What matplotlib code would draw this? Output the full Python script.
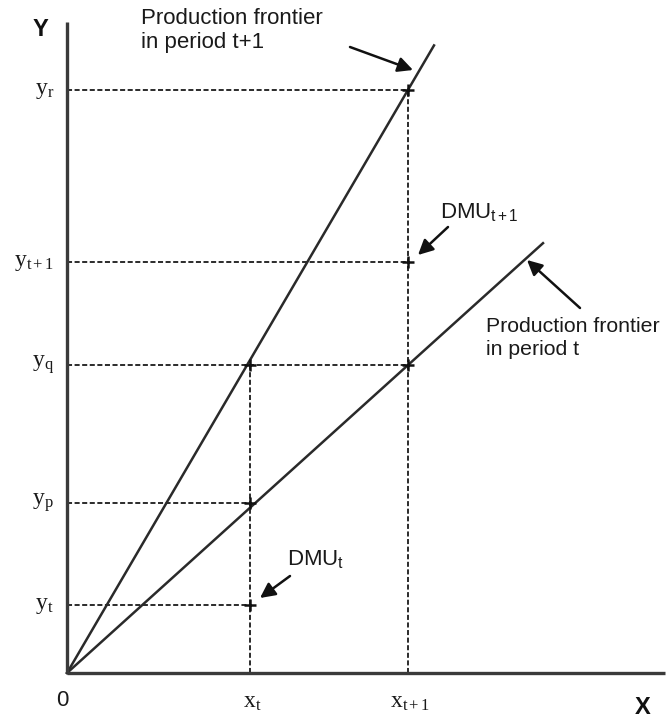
import matplotlib
matplotlib.use("Agg")
import matplotlib.pyplot as plt

plt.rcParams['font.family'] = ['Liberation Sans', 'DejaVu Sans']
plt.rcParams['mathtext.fontset'] = 'custom'
plt.rcParams['mathtext.rm'] = 'Liberation Serif'
plt.rcParams['mathtext.it'] = 'Liberation Serif:italic'
plt.rcParams['mathtext.sf'] = 'Liberation Sans'

# ---- data (diagram units) ----
x_levels = [1.83, 3.41]                      # x_t, x_{t+1}
x_labels = [r'$\mathrm{x_t}$', r'$\mathrm{x_{t+1}}$']
y_levels = [0.68, 1.70, 3.08, 4.11, 5.83]    # y_t, y_p, y_q, y_{t+1}, y_r
y_labels = [r'$\mathrm{y_t}$', r'$\mathrm{y_p}$', r'$\mathrm{y_q}$',
            r'$\mathrm{y_{t+1}}$', r'$\mathrm{y_r}$']
slope_t1 = 1.71      # production frontier in period t+1
slope_t = 0.903      # production frontier in period t
end_t1 = 3.67        # x end of frontier t+1
end_t = 4.76         # x end of frontier t
# points: (x index, y index)
points = [(0, 0), (0, 1), (0, 2), (1, 2), (1, 3), (1, 4)]
x_axis_end = 5.98
y_axis_end = 6.51

fig = plt.figure(figsize=(6.68, 7.2), dpi=100)
ax = fig.add_axes([0, 0, 1, 1])
ax.set_xlim(-0.67, 6.01)
ax.set_ylim(-0.47, 6.73)
ax.axis('off')

dash = dict(color='#1a1a1a', lw=1.3, dashes=(2.8, 1.4))

# horizontal dashed guides: from y axis to the rightmost point at that level
for yi, yv in enumerate(y_levels):
    xs = [x_levels[p[0]] for p in points if p[1] == yi]
    ax.plot([0, max(xs)], [yv, yv], **dash)
# vertical dashed guides: from x axis up to the highest point at that x
for xi, xv in enumerate(x_levels):
    ys = [y_levels[p[1]] for p in points if p[0] == xi]
    ax.plot([xv, xv], [0, max(ys)], **dash)

# frontiers
ax.plot([0, end_t1], [0, slope_t1 * end_t1], color='#2a2a2a', lw=1.8)
ax.plot([0, end_t], [0, slope_t * end_t], color='#2a2a2a', lw=1.8)

# axes
ax.plot([0, 0], [0, y_axis_end], color='#3a3a3a', lw=2.4, solid_capstyle='butt')
ax.plot([0, x_axis_end], [0, 0], color='#3a3a3a', lw=2.4, solid_capstyle='butt')

# points
ax.plot([x_levels[p[0]] for p in points], [y_levels[p[1]] for p in points],
        linestyle='none', marker='+', ms=9, mew=1.8, color='#111111')

# tick labels
for xv, lab in zip(x_levels, x_labels):
    ax.text(xv + 0.02, -0.29, lab, ha='center', va='center', fontsize=17,
            color='#1a1a1a')
for yv, lab in zip(y_levels, y_labels):
    ax.text(-0.13, yv, lab, ha='right', va='center', fontsize=17,
            color='#1a1a1a')
ax.text(-0.05, -0.27, '0', ha='center', va='center', fontsize=16, color='#1a1a1a')
ax.text(-0.27, 6.43, 'Y', ha='center', va='center', fontsize=17, fontweight='bold',
        color='#111111')
ax.text(5.76, -0.35, 'X', ha='center', va='center', fontsize=17, fontweight='bold',
        color='#111111')

arrow = dict(arrowstyle='-|>,head_length=0.9,head_width=0.45', color='#111111',
             lw=1.8, shrinkA=0, shrinkB=0)

ax.text(0.74, 6.65, 'Production frontier\nin period t+1', ha='left', va='top',
        fontsize=16, color='#1a1a1a', linespacing=1.2)
ax.annotate('', xy=(3.46, 6.03), xytext=(2.83, 6.26), arrowprops=arrow)

ax.text(3.73, 4.60, r'$\mathsf{DMU_{t+1}}$', ha='left', va='center',
        fontsize=16, color='#1a1a1a')
ax.annotate('', xy=(3.51, 4.18), xytext=(3.81, 4.46), arrowprops=arrow)

ax.text(4.19, 3.56, 'Production frontier\nin period t', ha='left', va='top',
        fontsize=15.3, color='#1a1a1a', linespacing=1.25)
ax.annotate('', xy=(4.60, 4.13), xytext=(5.13, 3.65), arrowprops=arrow)

ax.text(2.20, 1.13, r'$\mathsf{DMU_t}$', ha='left', va='center',
        fontsize=16, color='#1a1a1a')
ax.annotate('', xy=(1.93, 0.75), xytext=(2.23, 0.97), arrowprops=arrow)

fig.savefig('out.png', dpi=100)
